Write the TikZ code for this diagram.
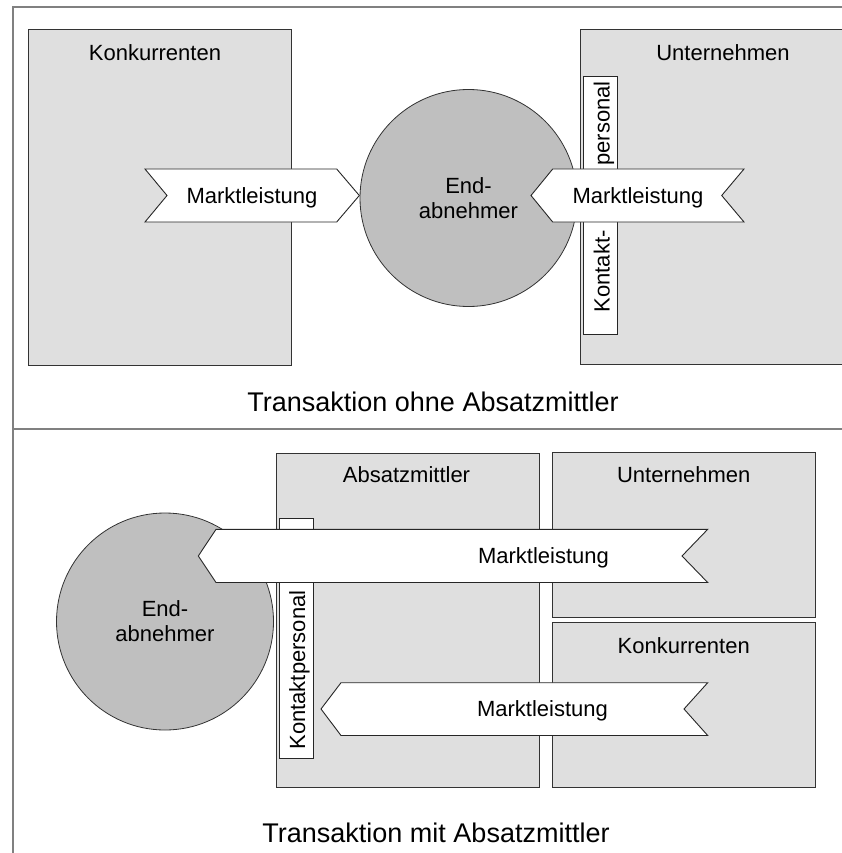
\documentclass[tikz,border=0pt]{standalone}
\usepackage{fontspec}
\setmainfont{Liberation Sans}
\begin{document}
\begin{tikzpicture}[x=1pt,y=-1pt,
  frameline/.style={draw=black!50, line width=2pt},
  party/.style={draw=black!80, line width=0.9pt, fill=black!12.5},
  customer/.style={circle, draw=black!80, line width=0.8pt, fill=black!25,
    minimum size=217pt, inner sep=0pt, align=center,
    font=\fontsize{22}{25}\selectfont},
  contact/.style={draw=black!85, line width=0.8pt, fill=white},
  banner/.style={draw=black!85, line width=0.9pt, fill=white, line join=miter},
  lbl/.style={inner sep=0pt, font=\fontsize{22}{25}\selectfont,
    text height=15.8pt, text depth=0pt},
  vlbl/.style={lbl, rotate=90},
  caption/.style={inner sep=0pt, font=\fontsize{27}{30}\selectfont,
    text height=19.4pt, text depth=0pt}]
\useasboundingbox (0,0) rectangle (842,853);

% panel frame
\draw[frameline] (842,7.3) -- (13,7.3) -- (13,853);
\draw[frameline] (13,429.3) -- (842,429.3);

% ---------- upper panel: direct transaction ----------
\draw[party] (28.7,29.7) rectangle (291.7,365);
\node[lbl] (konk1) at (155,53) {Konkurrenten};

\draw[banner] (145,169) -- (336.7,169) -- (359.3,195.5) -- (336.7,222)
  -- (145,222) -- (167,195.5) -- cycle;
\node[lbl] (ml1) at (252,195.5) {Marktleistung};

\node[customer] (kunde1) at (468.5,198) {End-\\abnehmer};

\draw[party] (580,29.3) rectangle (850,364.3);
\node[lbl] (unt1) at (723,53) {Unternehmen};

\node[contact, minimum width=34pt, minimum height=258pt, inner sep=0pt]
  (kp1) at (600.7,205) {};
\node[vlbl] (kp1a) at (601.7,271.5) {Kontakt-};
\node[vlbl] (kp1b) at (601.7,123.5) {personal};

\draw[banner] (531,195.5) -- (552.7,169) -- (744,169) -- (721.7,195.5)
  -- (744,222) -- (552.7,222) -- cycle;
\node[lbl] (ml2) at (638,195.5) {Marktleistung};

\node[caption] (cap1) at (433,401.7) {Transaktion ohne Absatzmittler};

% ---------- lower panel: transaction via intermediary ----------
\draw[party] (276.6,453) rectangle (539,787.5);
\node[lbl] (absm) at (406.5,475) {Absatzmittler};

\draw[party] (552.6,452.5) rectangle (815.8,617.3);
\node[lbl] (unt2) at (683.7,475) {Unternehmen};

\draw[party] (552.6,622.3) rectangle (815.8,787.5);
\node[lbl] (konk2) at (683.7,645.5) {Konkurrenten};

\node[contact, minimum width=33.7pt, minimum height=240pt, inner sep=0pt]
  (kp2) at (296.2,638) {};
\node[vlbl] (kp2a) at (297.2,670) {Kontaktpersonal};

\node[customer] (kunde2) at (165,621.5) {End-\\abnehmer};

\draw[banner] (198.3,556) -- (216,529.3) -- (707.7,529.3) -- (682,556)
  -- (707.7,582.5) -- (216,582.5) -- cycle;
\node[lbl] (ml3) at (543.5,556) {Marktleistung};

\draw[banner] (321,709) -- (341,682.7) -- (707.7,682.7) -- (684,709)
  -- (707.7,735.5) -- (341,735.5) -- cycle;
\node[lbl] (ml4) at (542.5,709) {Marktleistung};

\node[caption] (cap2) at (436,833) {Transaktion mit Absatzmittler};
\end{tikzpicture}
\end{document}
